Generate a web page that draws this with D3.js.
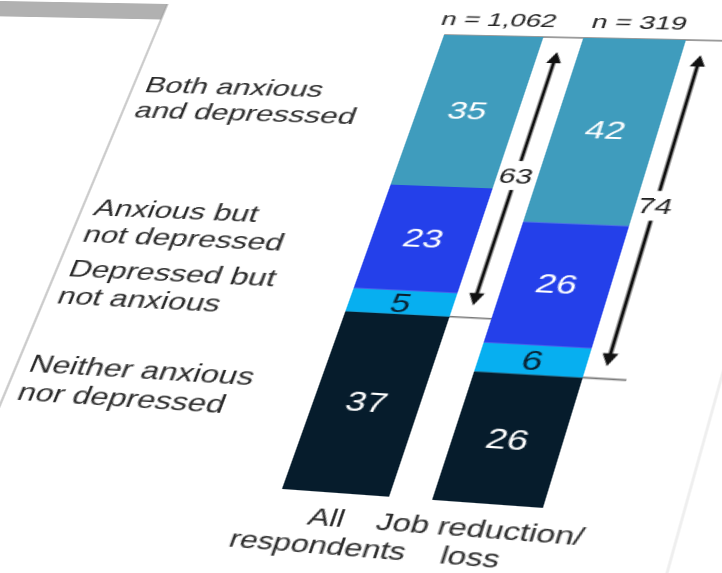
<!DOCTYPE html>
<html>
<head>
<meta charset="utf-8">
<script src="https://cdn.jsdelivr.net/npm/d3@7"></script>
<style>
  html, body { margin: 0; padding: 0; background: #fff; width: 722px; height: 573px; overflow: hidden; }
  #sheet { position: absolute; left: 0; top: 0; transform-origin: 0 0; }
  #sheet text { font-family: "Liberation Sans", Arial, Helvetica, sans-serif; }
</style>
</head>
<body>
<div id="sheet"></div>
<script>
// ---- data -------------------------------------------------------------
const categories = ["All respondents", "Job reduction/loss"];
const categoryLines = [["All", "respondents"], ["Job reduction/", "loss"]];
const sampleSizes = ["n = 1,062", "n = 319"];

// stacking order, bottom to top
const segmentKeys = ["neither", "depressedOnly", "anxiousOnly", "both"];
const segmentLines = [
  ["Neither anxious", "nor depressed"],
  ["Depressed but", "not anxious"],
  ["Anxious but", "not depressed"],
  ["Both anxious", "and depresssed"]
];
const neither = [37, 26];
const depressedOnly = [5, 6];
const anxiousOnly = [23, 26];
const both = [35, 42];
const anxiousOrDepressed = [63, 74];

const segmentColors = ["#061c2c", "#07aff0", "#2440ea", "#3f9cbd"];
const segmentTextColors = ["#ffffff", "#0a1f2e", "#ffffff", "#ffffff"];

// ---- flat sheet layout ------------------------------------------------
const sheetW = 1150, sheetH = 720;
const ox = 650, oy = 90;          // plot origin on the sheet
const plotH = 460, barW = 76, gap = 30;

const table = categories.map((c, i) => ({
  category: c,
  neither: neither[i],
  depressedOnly: depressedOnly[i],
  anxiousOnly: anxiousOnly[i],
  both: both[i]
}));
const series = d3.stack().keys(segmentKeys)(table);

const x = d3.scaleBand()
  .domain(categories)
  .range([0, 2 * barW + gap])
  .paddingInner(gap / (barW + gap))
  .paddingOuter(0);
const y = d3.scaleLinear().domain([0, 100]).range([plotH, 0]);

const svg = d3.select("#sheet").append("svg")
  .attr("width", sheetW).attr("height", sheetH);
const g = svg.append("g").attr("transform", `translate(${ox},${oy})`);

// page edge and the grey strip beyond it
const edgeX = -229;
g.append("rect")
  .attr("x", edgeX - 600).attr("y", -29)
  .attr("width", 600).attr("height", 18)
  .attr("fill", "#b1b1b1");
g.append("line")
  .attr("x1", edgeX).attr("x2", edgeX)
  .attr("y1", -29).attr("y2", 640)
  .attr("stroke", "#9a9a9a").attr("stroke-width", 1);
g.append("line")
  .attr("x1", 275).attr("x2", 275)
  .attr("y1", -80).attr("y2", 700)
  .attr("stroke", "#e4e4e4").attr("stroke-width", 1.2);

// guide rules at the top of each bar and at the top of the "neither" block
const bw = x.bandwidth();
categories.forEach((c, i) => {
  const x1 = x(c) + bw + gap;
  [100, neither[i]].forEach(v => {
    g.append("line")
      .attr("x1", x(c)).attr("x2", x1)
      .attr("y1", y(v)).attr("y2", y(v))
      .attr("stroke", "#7a7a7a").attr("stroke-width", 1.6);
  });
});

// stacked bars
const layer = g.selectAll("g.layer").data(series).join("g")
  .attr("class", "layer")
  .attr("fill", (d, i) => segmentColors[i]);
layer.selectAll("rect").data(d => d).join("rect")
  .attr("x", d => x(d.data.category))
  .attr("width", bw)
  .attr("y", d => y(d[1]))
  .attr("height", d => y(d[0]) - y(d[1]));

// values inside the bars
series.forEach((s, si) => {
  g.selectAll(null).data(s).join("text")
    .attr("x", d => x(d.data.category) + bw / 2)
    .attr("y", d => y((d[0] + d[1]) / 2))
    .attr("dy", "0.36em")
    .attr("text-anchor", "middle")
    .attr("font-size", 26)
    .attr("fill", segmentTextColors[si])
    .text(d => d[1] - d[0]);
});

// segment names down the left side, two lines centred a little above the block middle
const labelX = -219, labelSize = 24.5, labelLead = 28;
series.forEach((s, si) => {
  const mid = y((s[0][0] + s[0][1]) / 2) - 4;
  const first = mid - labelLead / 2 + 0.36 * labelSize;
  const t = g.append("text")
    .attr("x", labelX).attr("y", first)
    .attr("font-size", labelSize).attr("fill", "#2b2b2b");
  segmentLines[si].forEach((line, li) => {
    t.append("tspan")
      .attr("x", labelX)
      .attr("dy", li === 0 ? 0 : labelLead)
      .text(line);
  });
});

// sample sizes above the bars
g.selectAll("text.n").data(categories).join("text")
  .attr("class", "n")
  .attr("x", c => x(c) + bw / 2)
  .attr("y", -11)
  .attr("text-anchor", "middle")
  .attr("font-size", 21)
  .attr("fill", "#222")
  .text((c, i) => sampleSizes[i]);

// category names below the bars
categories.forEach((c, i) => {
  const t = g.append("text")
    .attr("x", x(c) + bw / 2).attr("y", plotH + 30)
    .attr("text-anchor", "middle")
    .attr("font-size", 22.5).attr("fill", "#2b2b2b");
  categoryLines[i].forEach((line, li) => {
    t.append("tspan")
      .attr("x", x(c) + bw / 2)
      .attr("dy", li === 0 ? 0 : "1.12em")
      .text(line);
  });
});

// double arrows spanning everyone who is anxious, depressed or both
const headL = 12, headW = 5.5;
categories.forEach((c, i) => {
  const ax = x(c) + bw + 14;
  const top = y(100) + 16;
  const bottom = y(neither[i]) - 12;
  const mid = (top + bottom) / 2;
  const half = 15;
  const a = g.append("g").attr("fill", "#111").attr("stroke", "#111");
  a.append("line").attr("x1", ax).attr("x2", ax)
    .attr("y1", top + headL - 1).attr("y2", mid - half)
    .attr("stroke-width", 2.8);
  a.append("line").attr("x1", ax).attr("x2", ax)
    .attr("y1", mid + half).attr("y2", bottom - headL + 1)
    .attr("stroke-width", 2.8);
  a.append("path").attr("stroke", "none")
    .attr("d", `M${ax},${top}L${ax - headW},${top + headL}L${ax + headW},${top + headL}Z`);
  a.append("path").attr("stroke", "none")
    .attr("d", `M${ax},${bottom}L${ax - headW},${bottom - headL}L${ax + headW},${bottom - headL}Z`);
  g.append("text")
    .attr("x", ax).attr("y", mid).attr("dy", "0.36em")
    .attr("text-anchor", "middle")
    .attr("font-size", 22).attr("fill", "#222")
    .text(anxiousOrDepressed[i]);
});

// ---- tilt the sheet: projective map of the plot corners ---------------
function solveHomography(src, dst) {
  const A = [];
  for (let i = 0; i < 4; i++) {
    const [sx, sy] = src[i], [u, v] = dst[i];
    A.push([sx, sy, 1, 0, 0, 0, -sx * u, -sy * u, u]);
    A.push([0, 0, 0, sx, sy, 1, -sx * v, -sy * v, v]);
  }
  const n = 8;
  for (let col = 0; col < n; col++) {
    let piv = col;
    for (let r = col + 1; r < n; r++) if (Math.abs(A[r][col]) > Math.abs(A[piv][col])) piv = r;
    [A[col], A[piv]] = [A[piv], A[col]];
    for (let r = 0; r < n; r++) {
      if (r === col) continue;
      const f = A[r][col] / A[col][col];
      for (let k = col; k <= n; k++) A[r][k] -= f * A[col][k];
    }
  }
  return A.map((row, i) => row[n] / row[i]);
}

const left = ox + x(categories[0]);
const right = ox + x(categories[1]) + bw;
const plotCorners = [[left, oy], [right, oy], [right, oy + plotH], [left, oy + plotH]];
const pageCorners = [[444, 35], [686, 40], [543, 508], [282, 489]];
const h = solveHomography(plotCorners, pageCorners);

d3.select("#sheet")
  .style("width", sheetW + "px").style("height", sheetH + "px")
  .style("transform",
    `matrix3d(${h[0]},${h[3]},0,${h[6]},${h[1]},${h[4]},0,${h[7]},0,0,1,0,${h[2]},${h[5]},0,1)`);
</script>
</body>
</html>
